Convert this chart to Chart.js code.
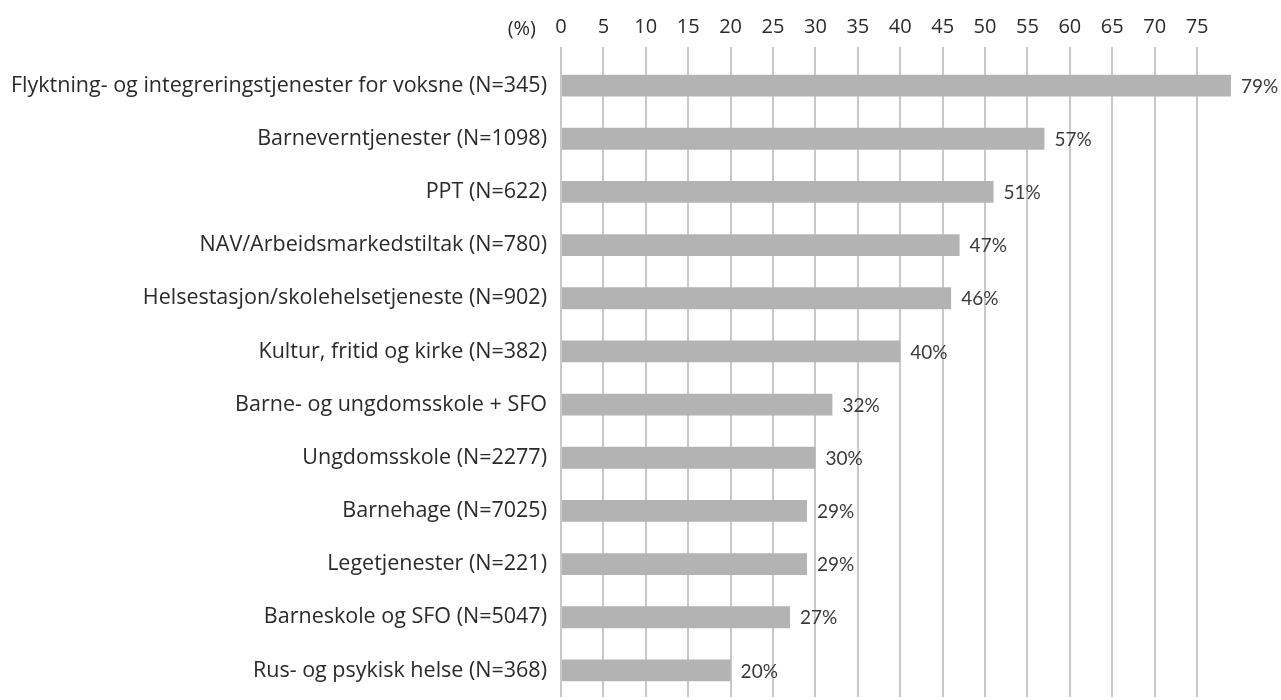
<!DOCTYPE html>
<html>
<head>
<meta charset="utf-8">
<script src="https://cdn.jsdelivr.net/npm/chart.js@4/dist/chart.umd.min.js"></script>
<style>
    html, body { margin: 0; padding: 0; background: #fff; overflow: hidden; }
    canvas { display: block; }
</style>
</head>
<body>
<canvas id="chart" width="1281" height="700"></canvas>
<script>
    'use strict';

    var categories = [
        'Flyktning- og integreringstjenester for voksne (N=345)',
        'Barneverntjenester (N=1098)',
        'PPT (N=622)',
        'NAV/Arbeidsmarkedstiltak (N=780)',
        'Helsestasjon/skolehelsetjeneste (N=902)',
        'Kultur, fritid og kirke (N=382)',
        'Barne- og ungdomsskole + SFO',
        'Ungdomsskole (N=2277)',
        'Barnehage (N=7025)',
        'Legetjenester (N=221)',
        'Barneskole og SFO (N=5047)',
        'Rus- og psykisk helse (N=368)'
    ];
    var shares = [79, 57, 51, 47, 46, 40, 32, 30, 29, 29, 27, 20];
    var axisMax = 79;
    var axisUnit = '(%)';

    var labelFont = '"Open Sans", sans-serif';
    var valueFont = 'Lato, sans-serif';

    // value labels after each bar plus the "(%)" unit in front of the top axis
    var extrasPlugin = {
        id: 'extras',
        afterDatasetsDraw: function (chart) {
            var ctx = chart.ctx;
            var meta = chart.getDatasetMeta(0);
            ctx.save();
            ctx.font = '19px ' + valueFont;
            ctx.fillStyle = '#3a3a3a';
            ctx.textAlign = 'left';
            ctx.textBaseline = 'middle';
            meta.data.forEach(function (bar, i) {
                ctx.fillText(shares[i] + '%', bar.x + 10, bar.y + 1);
            });

            var xScale = chart.scales.x;
            ctx.font = '20px ' + labelFont;
            ctx.fillStyle = '#2a2a2a';
            ctx.textAlign = 'right';
            ctx.fillText(axisUnit, xScale.getPixelForValue(0) - 25, 29);
            ctx.restore();
        }
    };

    var ctx = document.getElementById('chart');
    //noinspection JSUnusedLocalSymbols
    var chart = new Chart(ctx, {
        type: 'bar',
        data: {
            labels: categories,
            datasets: [
                {
                    label: 'Andel',
                    backgroundColor: '#b3b3b3',
                    borderWidth: 0,
                    data: shares,
                    categoryPercentage: 1,
                    barPercentage: 0.41
                }
            ]
        },
        options: {
            indexAxis: 'y',
            responsive: false,
            animation: false,
            layout: {
                padding: {top: 0, right: 50, bottom: 3, left: 0}
            },
            plugins: {
                legend: {display: false},
                title: {display: false},
                tooltip: {enabled: false}
            },
            scales: {
                x: {
                    position: 'top',
                    min: 0,
                    max: axisMax,
                    afterFit: function (scale) {
                        scale.height = 59;
                    },
                    grid: {
                        color: '#c8c8c8',
                        lineWidth: 2,
                        drawTicks: true,
                        tickLength: 12
                    },
                    border: {display: false},
                    ticks: {
                        stepSize: 5,
                        includeBounds: false,
                        padding: 8,
                        color: '#2a2a2a',
                        font: {family: labelFont, size: 20}
                    }
                },
                y: {
                    afterFit: function (scale) {
                        scale.width = 561;
                        scale.paddingTop = 0;
                        scale.paddingBottom = 0;
                    },
                    grid: {display: false},
                    border: {display: false},
                    ticks: {
                        padding: 6,
                        color: '#2a2a2a',
                        font: {family: labelFont, size: 21.5}
                    }
                }
            }
        },
        plugins: [extrasPlugin]
    });
</script>
</body>
</html>
